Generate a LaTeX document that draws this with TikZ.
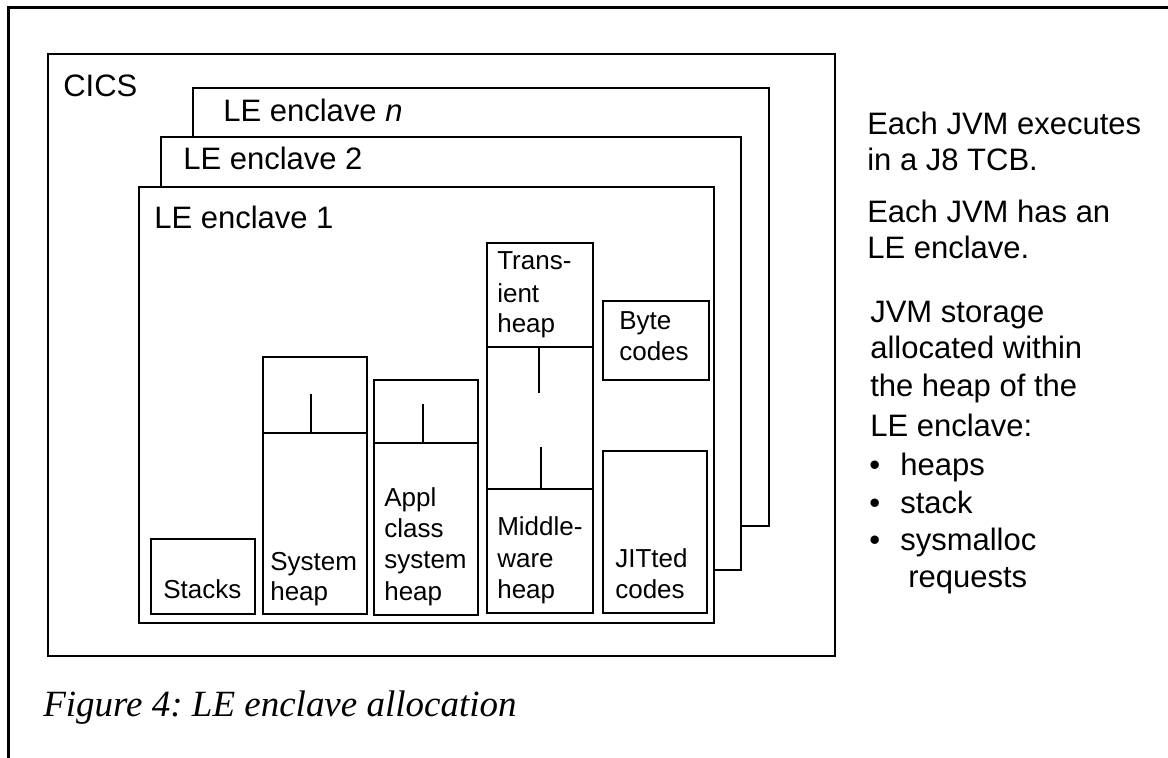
\documentclass[tikz,border=0pt]{standalone}
\usepackage{fontspec}
\setmainfont{Liberation Sans}
\newfontfamily\capfont{Liberation Serif}
\frenchspacing
\begin{document}
\begin{tikzpicture}[x=1pt,y=-1pt,line width=2.6pt,
  region/.style={draw,fill=white,line width=2.6pt,inner sep=0pt,outer sep=0pt,anchor=north west},
  biglabel/.style={anchor=base west,inner sep=0pt,font=\fontsize{31}{37}\selectfont},
  smalllabel/.style={anchor=base west,inner sep=0pt,font=\fontsize{26}{31}\selectfont},
  captionlabel/.style={anchor=base west,inner sep=0pt,font=\capfont\itshape\fontsize{37}{44}\selectfont}]
\useasboundingbox (0,0) rectangle (1168,758);
% page frame
\draw (8.7,760) -- (8.7,7.5) -- (1170,7.5);
% containers
\node[region,minimum width=787pt,minimum height=602pt] (cics) at (48,54) {};
\node[region,minimum width=576pt,minimum height=438pt] (encn) at (193,88) {};
\node[region,minimum width=580pt,minimum height=433pt] (enc2) at (161,137) {};
\node[region,minimum width=575pt,minimum height=436pt] (enc1) at (139,187) {};
\node[biglabel] (lcics) at (62,96) {CICS};
\node[biglabel] (lencn) at (222,121) {LE enclave \textit{n}};
\node[biglabel] (lenc2) at (182,169) {LE enclave 2};
\node[biglabel] (lenc1) at (153,228) {LE enclave 1};
% storage boxes
\node[region,minimum width=104pt,minimum height=75pt] (stacks) at (151,539) {};
\node[region,minimum width=104pt,minimum height=257pt] (sysheap) at (263,357) {};
\node[region,minimum width=104pt,minimum height=235pt] (applheap) at (374,380) {};
\node[region,minimum width=106pt,minimum height=370pt] (transheap) at (487,243) {};
\node[region,minimum width=106pt,minimum height=79pt] (byte) at (603,301) {};
\node[region,minimum width=104pt,minimum height=162pt] (jit) at (603,451) {};
% dividers and ticks
\draw (sysheap.west |- 0,433) coordinate (sysdivl) -- (sysheap.east |- 0,433) coordinate (sysdivr);
\draw (311,433) coordinate (systickb) -- (311,394) coordinate (systickt);
\draw (applheap.west |- 0,443) coordinate (appdivl) -- (applheap.east |- 0,443) coordinate (appdivr);
\draw (423,443) coordinate (apptickb) -- (423,404) coordinate (apptickt);
\draw (transheap.west |- 0,347) coordinate (trdivl) -- (transheap.east |- 0,347) coordinate (trdivr);
\draw (transheap.west |- 0,489) coordinate (mwdivl) -- (transheap.east |- 0,489) coordinate (mwdivr);
\draw (539,347) coordinate (trtickt) -- (539,393) coordinate (trtickb);
\draw (541,489) coordinate (mwtickb) -- (541,447) coordinate (mwtickt);
% box texts
\node[smalllabel] (tstacks) at (162,598) {Stacks};
\node[smalllabel] (tsys1) at (269,570) {System};
\node[smalllabel] (tsys2) at (269,600) {heap};
\node[smalllabel] (tapp1) at (383,506) {Appl};
\node[smalllabel] (tapp2) at (383,537) {class};
\node[smalllabel] (tapp3) at (383,568) {system};
\node[smalllabel] (tapp4) at (383,600) {heap};
\node[smalllabel] (ttr1) at (496,269) {Trans-};
\node[smalllabel] (ttr2) at (496,302) {ient};
\node[smalllabel] (ttr3) at (496,332) {heap};
\node[smalllabel] (tmw1) at (496,535) {Middle-};
\node[smalllabel] (tmw2) at (496,567) {ware};
\node[smalllabel] (tmw3) at (496,598) {heap};
\node[smalllabel] (tbyte1) at (618,329) {Byte};
\node[smalllabel] (tbyte2) at (618,360) {codes};
\node[smalllabel] (tjit1) at (614,567) {JITted};
\node[smalllabel] (tjit2) at (614,598) {codes};
% side notes
\node[biglabel] (n1) at (866,134) {Each JVM executes};
\node[biglabel] (n2) at (866,170) {in a J8 TCB.};
\node[biglabel] (n3) at (866,222) {Each JVM has an};
\node[biglabel] (n4) at (866,258) {LE enclave.};
\node[biglabel] (n5) at (869,322) {JVM storage};
\node[biglabel] (n6) at (869,358) {allocated within};
\node[biglabel] (n7) at (869,396) {the heap of the};
\node[biglabel] (n8) at (869,436) {LE enclave:};
\node[biglabel] (b1) at (868,475) {•};
\node[biglabel] (n9) at (899,475) {heaps};
\node[biglabel] (b2) at (868,513) {•};
\node[biglabel] (n10) at (899,513) {stack};
\node[biglabel] (b3) at (868,550) {•};
\node[biglabel] (n11) at (899,550) {sysmalloc};
\node[biglabel] (n12) at (907,587) {requests};
% caption
\node[captionlabel] (cap) at (42,716) {Figure 4: LE enclave allocation};
\end{tikzpicture}
\end{document}
